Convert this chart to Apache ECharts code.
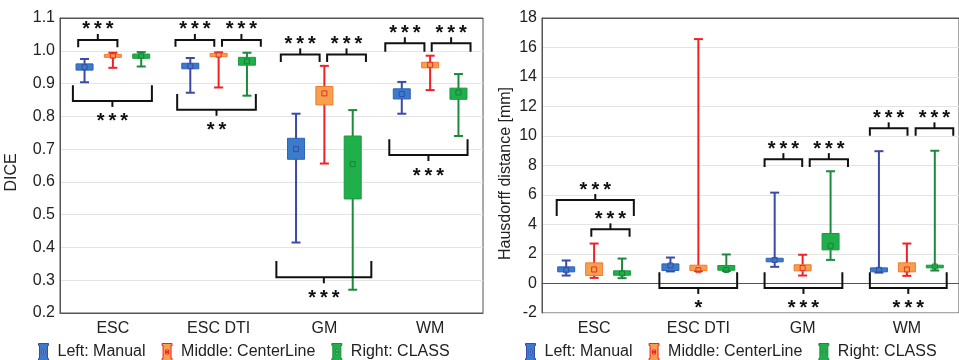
<!DOCTYPE html>
<html>
<head>
<meta charset="utf-8">
<script src="https://cdn.jsdelivr.net/npm/echarts@6/dist/echarts.min.js"></script>
<style>
html,body{margin:0;padding:0;background:#fff;}
#chart{width:959px;height:360px;}
</style>
</head>
<body>
<div id="chart"></div>
<script>
// ---------- data ----------
const categories = ['ESC', 'ESC DTI', 'GM', 'WM'];
const methodNames = ['Left: Manual', 'Middle: CenterLine', 'Right: CLASS'];

// each entry: [whiskerLow, boxLow, mean, boxHigh, whiskerHigh]
const diceManual     = [[0.904, 0.941, 0.950, 0.960, 0.975], [0.872, 0.945, 0.953, 0.962, 0.978], [0.415, 0.669, 0.700, 0.733, 0.808], [0.808, 0.853, 0.868, 0.884, 0.905]];
const diceCenterLine = [[0.948, 0.980, 0.985, 0.989, 0.994], [0.888, 0.982, 0.988, 0.992, 0.995], [0.656, 0.835, 0.870, 0.891, 0.954], [0.880, 0.948, 0.957, 0.965, 0.985]];
const diceClass      = [[0.952, 0.977, 0.985, 0.990, 0.996], [0.863, 0.956, 0.968, 0.980, 0.994], [0.271, 0.548, 0.654, 0.740, 0.819], [0.740, 0.852, 0.873, 0.886, 0.929]];

const hdManual     = [[0.54, 0.79, 0.90, 1.13, 1.56], [0.82, 0.88, 1.22, 1.33, 1.76], [1.13, 1.47, 1.60, 1.71, 6.16], [0.74, 0.79, 0.93, 1.06, 8.97]];
const hdCenterLine = [[0.38, 0.54, 0.95, 1.40, 2.71], [0.85, 0.88, 0.90, 1.24, 16.57], [0.54, 0.86, 1.05, 1.27, 1.95], [0.52, 0.79, 0.95, 1.40, 2.71]];
const hdClass      = [[0.36, 0.56, 0.68, 0.86, 1.69], [0.85, 0.90, 0.92, 1.22, 1.97], [1.60, 2.28, 2.56, 3.39, 7.61], [0.88, 1.06, 1.15, 1.24, 9.00]];

// significance brackets: [category, fromOffset, toOffset (band units), yBar, yLegEnd, label]
const diceBrackets = [
  [0, -0.328, 0.043, 1.033, 1.011, '***'],
  [0, -0.378, 0.369, 0.847, 0.895, '***'],
  [1, -0.408, -0.041, 1.033, 1.012, '***'],
  [1, 0.032, 0.399, 1.033, 1.012, '***'],
  [1, -0.392, 0.352, 0.820, 0.868, '**'],
  [2, -0.412, -0.045, 0.989, 0.966, '***'],
  [2, 0.026, 0.393, 0.989, 0.966, '***'],
  [2, -0.454, 0.444, 0.309, 0.359, '***'],
  [3, -0.424, -0.054, 1.023, 0.997, '***'],
  [3, 0.015, 0.382, 1.023, 0.997, '***'],
  [3, -0.386, 0.354, 0.682, 0.730, '***']
];
const hdBrackets = [
  [0, -0.359, 0.381, 5.66, 4.57, '***'],
  [0, -0.027, 0.340, 3.67, 3.17, '***'],
  [1, -0.374, 0.372, -0.30, 0.76, '*'],
  [2, -0.365, -0.004, 8.43, 7.90, '***'],
  [2, 0.068, 0.435, 8.43, 7.90, '***'],
  [2, -0.365, 0.381, -0.30, 0.76, '***'],
  [3, -0.355, 0.006, 10.52, 10.01, '***'],
  [3, 0.084, 0.445, 10.52, 10.01, '***'],
  [3, -0.355, 0.382, -0.30, 0.76, '***']
];

const diceTicks = { min: 0.2, max: 1.1, interval: 0.1 };
const hdTicks = { min: -2, max: 18, interval: 2 };

// ---------- styles ----------
const FONT = "'Liberation Sans', Arial, sans-serif";
const methodStyles = [
  { offset: -0.268, whisker: '#3a4aa8', fill: '#3b7bcb', border: '#2f62b3', mean: '#3a4aa8' },
  { offset: 0,      whisker: '#ec2227', fill: '#f6a04d', border: '#f07a30', mean: '#e3302a' },
  { offset: 0.268,  whisker: '#1b8b3b', fill: '#20b04b', border: '#1a9a42', mean: '#17813a' }
];

function boxSeries(name, data, st, axisIdx) {
  return {
    type: 'custom',
    name: name,
    xAxisIndex: axisIdx, yAxisIndex: axisIdx,
    silent: true,
    clip: false,
    itemStyle: { color: st.fill },
    encode: { x: 0, y: [1, 2, 3, 4, 5] },
    data: data.map((d, i) => [i].concat(d)),
    renderItem: function (params, api) {
      const cat = api.value(0);
      const band = api.size([1, 0])[0];
      const c = api.coord([cat, api.value(3)]);
      const x = c[0] + st.offset * band;
      const yLo = api.coord([cat, api.value(1)])[1];
      const yQ1 = api.coord([cat, api.value(2)])[1];
      const yMean = c[1];
      const yQ3 = api.coord([cat, api.value(4)])[1];
      const yHi = api.coord([cat, api.value(5)])[1];
      const bw = 17, cw = 9, ms = 5;
      const ls = { stroke: st.whisker, lineWidth: 2 };
      return {
        type: 'group',
        children: [
          { type: 'line', shape: { x1: x, y1: yLo, x2: x, y2: yHi }, style: ls },
          { type: 'line', shape: { x1: x - cw / 2, y1: yHi, x2: x + cw / 2, y2: yHi }, style: ls },
          { type: 'line', shape: { x1: x - cw / 2, y1: yLo, x2: x + cw / 2, y2: yLo }, style: ls },
          { type: 'rect', shape: { x: x - bw / 2, y: yQ3, width: bw, height: Math.max(yQ1 - yQ3, 1.5) },
            style: { fill: st.fill, stroke: st.border, lineWidth: 1 } },
          { type: 'rect', shape: { x: x - ms / 2, y: yMean - ms / 2, width: ms, height: ms },
            style: { fill: 'none', stroke: st.mean, lineWidth: 1 } }
        ]
      };
    }
  };
}

function bracketSeries(data, axisIdx) {
  return {
    type: 'custom',
    name: 'brackets' + axisIdx,
    xAxisIndex: axisIdx, yAxisIndex: axisIdx,
    silent: true,
    clip: false,
    encode: { x: 0, y: [3, 4] },
    data: data,
    renderItem: function (params, api) {
      const cat = api.value(0);
      const band = api.size([1, 0])[0];
      const cx = api.coord([cat, api.value(3)])[0];
      const x1 = cx + api.value(1) * band;
      const x2 = cx + api.value(2) * band;
      const yBar = api.coord([cat, api.value(3)])[1];
      const yLeg = api.coord([cat, api.value(4)])[1];
      const label = data[params.dataIndex][5];
      const top = yLeg > yBar; // legs go down => bracket above
      const tick = 6;
      const xm = (x1 + x2) / 2;
      const yTickEnd = top ? yBar - tick : yBar + tick;
      const yText = top ? yTickEnd - 4 : yTickEnd + 15;
      const ls = { stroke: '#111', lineWidth: 2, fill: 'none' };
      return {
        type: 'group',
        children: [
          { type: 'polyline', shape: { points: [[x1, yLeg], [x1, yBar], [x2, yBar], [x2, yLeg]] }, style: ls },
          { type: 'line', shape: { x1: xm, y1: yBar, x2: xm, y2: yTickEnd }, style: ls },
          { type: 'text', style: { text: label.split('').join('\u2009'), x: xm, y: yText, align: 'center', verticalAlign: 'middle',
            font: 'bold 20px ' + FONT, fill: '#111' } }
        ]
      };
    }
  };
}

const legendIcon = 'path://M0,0H10V2H9V15H10V17H0V15H1V2H0Z M3.5,6.5V10.5H6.5V6.5Z M4.5,7.5H5.5V9.5H4.5Z';
function legendData() {
  return methodNames.map((n, i) => ({
    name: n, icon: legendIcon,
    itemStyle: { color: methodStyles[i].fill, borderColor: methodStyles[i].whisker, borderWidth: 1 }
  }));
}

function xAxes(gridIndex) {
  return [
    {
      type: 'category', gridIndex: gridIndex, data: categories, position: 'bottom',
      axisLine: { lineStyle: { color: '#555', width: 1 } },
      axisTick: { inside: true, length: 3, alignWithLabel: true, lineStyle: { color: '#555' } },
      axisLabel: { fontSize: 16, fontFamily: FONT, color: '#222', margin: 8 },
      splitLine: { show: false }
    },
    {
      type: 'category', gridIndex: gridIndex, data: categories, position: 'top',
      axisLine: { lineStyle: { color: '#555', width: 1 } },
      axisTick: { inside: true, length: 3, alignWithLabel: true, lineStyle: { color: '#555' } },
      axisLabel: { show: false },
      splitLine: { show: false }
    }
  ];
}

function yAxis(gridIndex, ticks, name, gap, pad, fmt) {
  return {
    type: 'value', gridIndex: gridIndex, min: ticks.min, max: ticks.max, interval: ticks.interval,
    name: name, nameLocation: 'middle', nameGap: gap,
    nameTextStyle: { fontSize: 16, fontFamily: FONT, color: '#222', padding: [0, pad, 0, 0] },
    axisLine: { show: true, lineStyle: { color: '#555', width: 1 } },
    axisTick: { show: false },
    axisLabel: { fontSize: 16, fontFamily: FONT, color: '#222', margin: 5, formatter: fmt },
    splitLine: { show: true, lineStyle: { color: '#e4e4e4', width: 1 } }
  };
}

const chart = echarts.init(document.getElementById('chart'), null, { renderer: 'canvas' });
const xa0 = xAxes(0), xa1 = xAxes(1);
const option = {
  animation: false,
  backgroundColor: '#fff',
  grid: [
    { left: 60, top: 18, width: 423, height: 295, show: true, borderColor: '#555', borderWidth: 1 },
    { left: 542, top: 18, width: 425, height: 295, show: true, borderColor: '#555', borderWidth: 1 }
  ],
  xAxis: [xa0[0], xa1[0], xa0[1], xa1[1]],
  yAxis: [
    yAxis(0, diceTicks, 'DICE', 40, 14, v => v.toFixed(1)),
    yAxis(1, hdTicks, 'Hausdorff distance [mm]', 28, 16, v => String(Math.round(v)))
  ],
  legend: [
    { left: 38, top: 343, itemWidth: 10, itemHeight: 17, itemGap: 16, padding: 0,
      textStyle: { fontSize: 16, fontFamily: FONT, color: '#222', padding: [0, 0, 0, 4] }, data: legendData(), selectedMode: false },
    { left: 525, top: 343, itemWidth: 10, itemHeight: 17, itemGap: 16, padding: 0,
      textStyle: { fontSize: 16, fontFamily: FONT, color: '#222', padding: [0, 0, 0, 4] }, data: legendData(), selectedMode: false }
  ],
  series: [
    boxSeries(methodNames[0], diceManual, methodStyles[0], 0),
    boxSeries(methodNames[1], diceCenterLine, methodStyles[1], 0),
    boxSeries(methodNames[2], diceClass, methodStyles[2], 0),
    bracketSeries(diceBrackets, 0),
    boxSeries(methodNames[0], hdManual, methodStyles[0], 1),
    boxSeries(methodNames[1], hdCenterLine, methodStyles[1], 1),
    boxSeries(methodNames[2], hdClass, methodStyles[2], 1),
    bracketSeries(hdBrackets, 1)
  ]
};
chart.setOption(option);
</script>
</body>
</html>
